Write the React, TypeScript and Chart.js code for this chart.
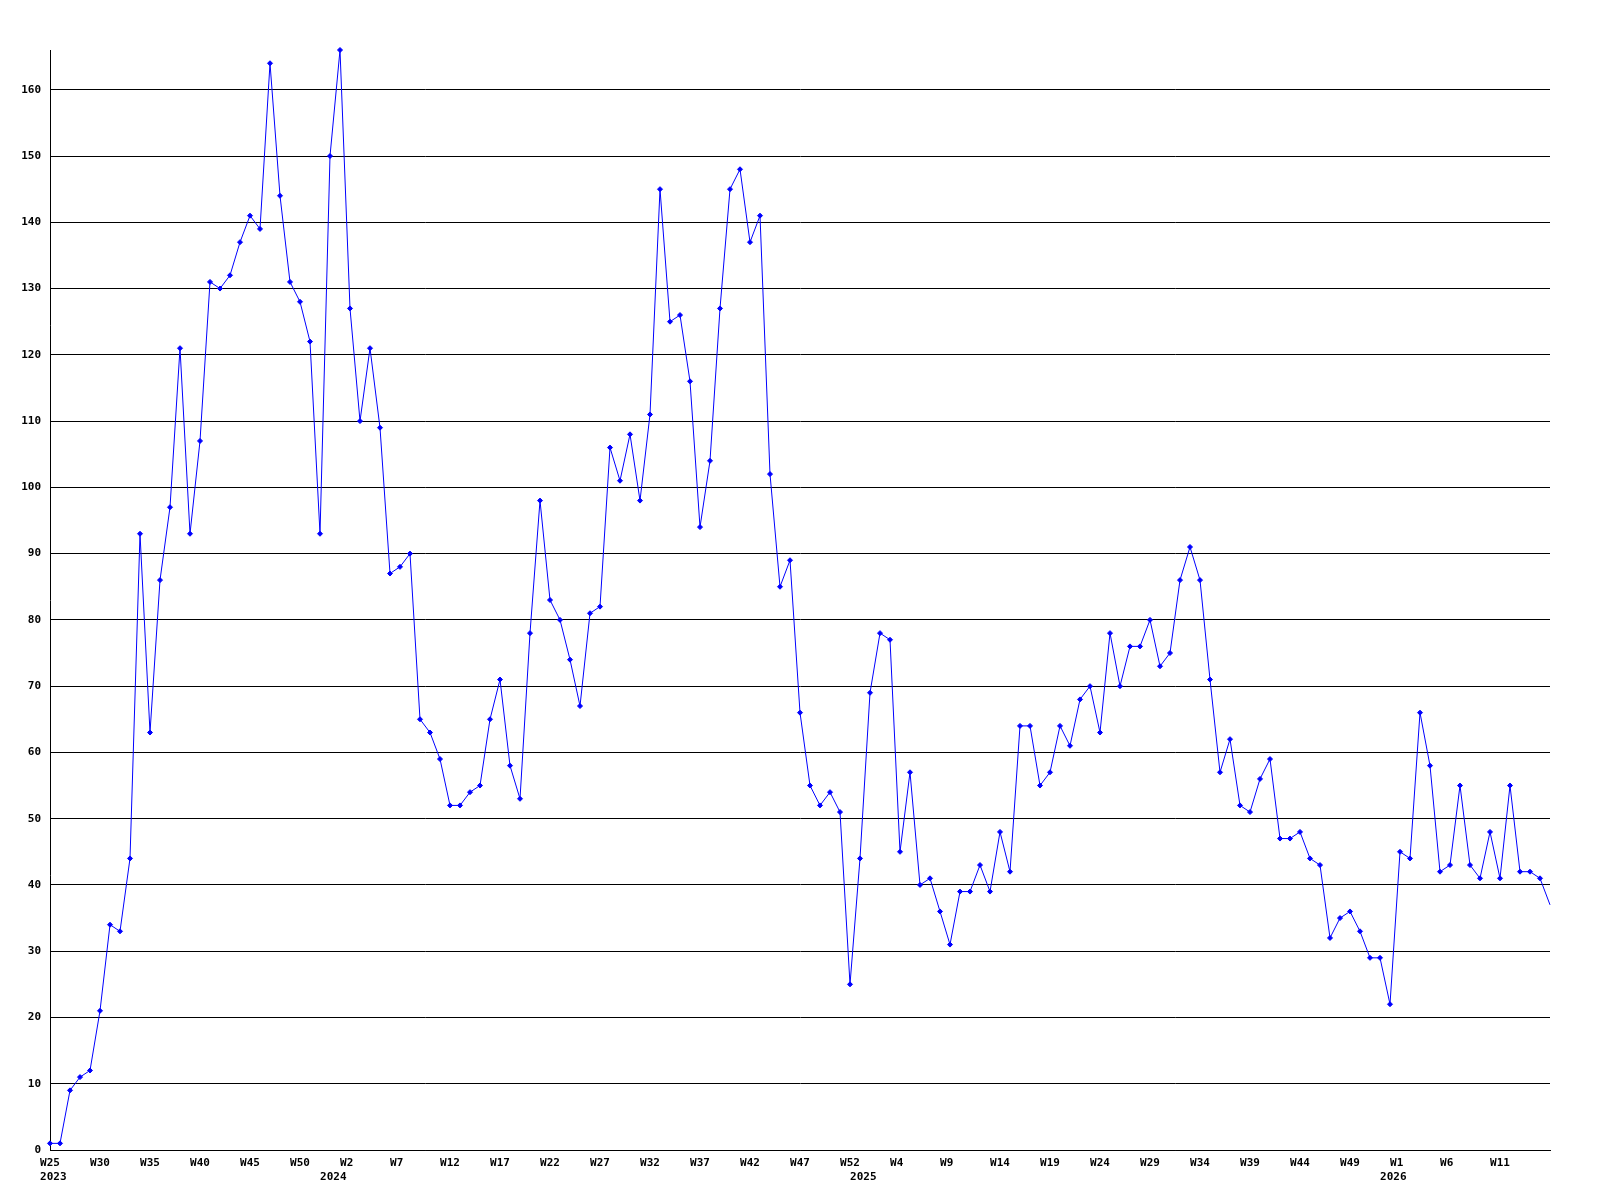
import React, { useEffect, useRef } from "react";
import { Chart, registerables } from "chart.js";

Chart.register(...registerables);

// Weekly values, W25 2023 ... W16 2026 (151 weeks)
const values: number[] = [
  1, 1, 9, 11, 12, 21, 34, 33, 44, 93,
  63, 86, 97, 121, 93, 107, 131, 130, 132, 137,
  141, 139, 164, 144, 131, 128, 122, 93, 150, 166,
  127, 110, 121, 109, 87, 88, 90, 65, 63, 59,
  52, 52, 54, 55, 65, 71, 58, 53, 78, 98,
  83, 80, 74, 67, 81, 82, 106, 101, 108, 98,
  111, 145, 125, 126, 116, 94, 104, 127, 145, 148,
  137, 141, 102, 85, 89, 66, 55, 52, 54, 51,
  25, 44, 69, 78, 77, 45, 57, 40, 41, 36,
  31, 39, 39, 43, 39, 48, 42, 64, 64, 55,
  57, 64, 61, 68, 70, 63, 78, 70, 76, 76,
  80, 73, 75, 86, 91, 86, 71, 57, 62, 52,
  51, 56, 59, 47, 47, 48, 44, 43, 32, 35,
  36, 33, 29, 29, 22, 45, 44, 66, 58, 42,
  43, 55, 43, 41, 48, 41, 55, 42, 42, 41,
  37,
];

// Week tick labels shown every 5th week
const weekTickLabels: string[] = [
  "W25", "W30", "W35", "W40", "W45", "W50",
  "W2", "W7", "W12", "W17", "W22", "W27", "W32", "W37", "W42", "W47", "W52",
  "W4", "W9", "W14", "W19", "W24", "W29", "W34", "W39", "W44", "W49",
  "W1", "W6", "W11",
];
const weekTickStep = 5;

// Year labels and the week index where each year starts
const yearTickLabels: string[] = ["2023", "2024", "2025", "2026"];
const yearTickIndex: number[] = [0, 28, 81, 134];

const FONT = {
  family: '"DejaVu Sans Mono", "Liberation Mono", monospace',
  size: 11,
  weight: "bold" as const,
  lineHeight: "14px",
};

function padRight(s: string, n: number) {
  while (s.length < n) s += " ";
  return s;
}

export default function App() {
  const ref = useRef<HTMLCanvasElement>(null);

  useEffect(() => {
    const canvas = ref.current;
    if (!canvas) return;
    const labels = values.map((_, i) => String(i));
    const tickLabel = (i: number): string | string[] => {
      let week = "";
      if (i % weekTickStep === 0) {
        const w = weekTickLabels[i / weekTickStep];
        if (w) week = padRight(w, 3);
      }
      const yi = yearTickIndex.indexOf(i);
      if (yi >= 0) return [week, " " + yearTickLabels[yi]];
      return week;
    };

    const chart = new Chart(canvas, {
      type: "line",
      data: {
        labels,
        datasets: [
          {
            data: values,
            borderColor: "#0000ff",
            borderWidth: 1,
            backgroundColor: "#0000ff",
            pointStyle: "rectRot",
            pointRadius: values.map((_, i) => (i === values.length - 1 ? 0 : 2.5)),
            pointBackgroundColor: "#0000ff",
            pointBorderColor: "#0000ff",
            pointBorderWidth: 1,
            tension: 0,
            fill: false,
            clip: false,
          },
        ],
      },
      options: {
        responsive: false,
        animation: false,
        events: [],
        layout: { padding: { top: 50, right: 50, left: 0, bottom: 0 } },
        plugins: {
          legend: { display: false },
          tooltip: { enabled: false },
        },
        scales: {
          x: {
            type: "category",
            offset: false,
            grid: { display: false, drawTicks: false },
            border: { display: true, color: "#000000", width: 1 },
            ticks: {
              autoSkip: false,
              maxRotation: 0,
              minRotation: 0,
              padding: 6,
              color: "#000000",
              font: FONT,
              callback: (_v: any, i: number) => tickLabel(i),
            },
            afterFit: (s: any) => {
              s.height = 50;
            },
          },
          y: {
            min: 0,
            max: 166,
            grid: { color: "#000000", drawTicks: false, lineWidth: 1 },
            border: { display: true, color: "#000000", width: 1 },
            ticks: {
              stepSize: 10,
              includeBounds: false,
              padding: 9,
              color: "#000000",
              font: FONT,
            },
            afterFit: (s: any) => {
              s.width = 50;
            },
          },
        },
      },
    } as any);
    return () => chart.destroy();
  }, []);

  return (
    <div
      style={{
        position: "fixed",
        left: 0,
        top: 0,
        width: 1600,
        height: 1200,
        background: "#ffffff",
      }}
    >
      <canvas ref={ref} width={1600} height={1200} style={{ width: 1600, height: 1200, display: "block" }} />
    </div>
  );
}
